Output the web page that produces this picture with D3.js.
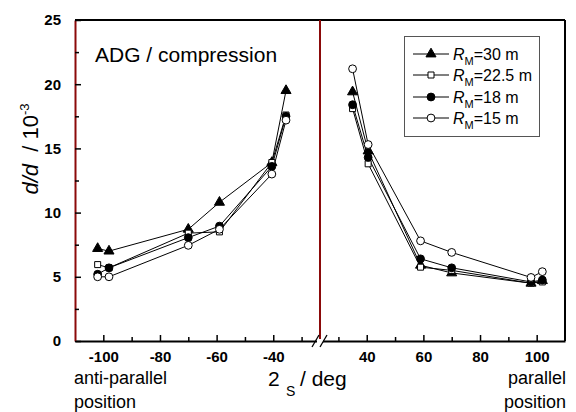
<!DOCTYPE html>
<html><head><meta charset="utf-8">
<script src="https://cdn.jsdelivr.net/npm/d3@7"></script>
<style>
body{margin:0;background:#fff;}
text{font-family:"Liberation Sans",Arial,sans-serif;}
</style></head>
<body><svg id="c" width="576" height="412"></svg>
<script>
// ---- data ----
const angles = [-102, -98, -70, -59, -40.5, -35.5, 35, 40.5, 59, 70, 98, 102];
const rm30   = [7.2, 7.0, 8.7, 10.8, 13.9, 19.5, 19.4, 14.8, 5.9, 5.3, 4.5, 4.7];
const rm225  = [5.95, 5.7, 8.4, 8.5, 13.9, 17.6, 18.1, 13.8, 5.75, 5.5, 4.5, 4.6];
const rm18   = [5.2, 5.7, 8.05, 8.95, 13.6, 17.5, 18.4, 14.3, 6.4, 5.7, 4.6, 4.75];
const rm15   = [5.0, 5.0, 7.45, 8.7, 13.0, 17.2, 21.2, 15.3, 7.8, 6.9, 4.95, 5.4];
const seriesNames = ["30 m", "22.5 m", "18 m", "15 m"];
const leftTicks = [-100, -80, -60, -40];
const rightTicks = [40, 60, 80, 100];
const leftMinor = [-90, -70, -50, -30];
const rightMinor = [30, 50, 70, 90];
const yTicks = [0, 5, 10, 15, 20, 25];

const series = [
  {name: seriesNames[0], vals: rm30, sym: d3.symbolTriangle, fill: "#000", size: 44},
  {name: seriesNames[1], vals: rm225, sym: d3.symbolSquare, fill: "#fff", size: 36},
  {name: seriesNames[2], vals: rm18, sym: d3.symbolCircle, fill: "#000", size: 48},
  {name: seriesNames[3], vals: rm15, sym: d3.symbolCircle, fill: "#fff", size: 48}
];

const svg = d3.select("#c");
const L = 75, R = 565, T = 20, B = 341, BRK = 320;
const RED = "#8b0a0a";
const xL = d3.scaleLinear().domain([-110, -23.5]).range([L, BRK]);
const xR = d3.scaleLinear().domain([23.5, 110]).range([BRK, R]);
const x = v => v < 0 ? xL(v) : xR(v);
const y = d3.scaleLinear().domain([0, 25]).range([B, T]);

// frame top & right
svg.append("line").attr("x1", L).attr("x2", R).attr("y1", T).attr("y2", T).attr("stroke", "#000").attr("stroke-width", 2);
svg.append("line").attr("x1", R).attr("x2", R).attr("y1", T).attr("y2", B).attr("stroke", "#000").attr("stroke-width", 2);

// bottom axes
function bottomAxis(scale, ticks, minor) {
  const g = svg.append("g").attr("transform", `translate(0,${B})`)
    .call(d3.axisBottom(scale).tickValues(ticks).tickSizeInner(-6).tickSizeOuter(0).tickPadding(10).tickFormat(d3.format("d")));
  g.select(".domain").attr("stroke-width", 2);
  g.selectAll(".tick line").attr("stroke-width", 1.5);
  g.selectAll("text").attr("font-size", 15).attr("font-weight", "bold").attr("fill", "#000").text(d => d < 0 ? "-" + Math.abs(d) : d);
  const gm = svg.append("g").attr("transform", `translate(0,${B})`)
    .call(d3.axisBottom(scale).tickValues(minor).tickSizeInner(-4).tickSizeOuter(0).tickFormat(""));
  gm.select(".domain").remove();
  gm.selectAll(".tick line").attr("stroke-width", 1.5);
}
bottomAxis(xL, leftTicks, leftMinor);
bottomAxis(xR, rightTicks, rightMinor);

// left axis (dark red line)
const gy = svg.append("g").attr("transform", `translate(${L},0)`)
  .call(d3.axisLeft(y).tickValues(yTicks).tickSizeInner(-6).tickSizeOuter(0).tickPadding(14));
gy.select(".domain").attr("stroke", RED).attr("stroke-width", 2);
gy.selectAll(".tick line").attr("stroke-width", 1.5);
gy.selectAll("text").attr("font-size", 15).attr("font-weight", "bold").attr("fill", "#000");
const gym = svg.append("g").attr("transform", `translate(${L},0)`)
  .call(d3.axisLeft(y).tickValues(d3.range(2.5, 25, 5)).tickSizeInner(-4).tickSizeOuter(0).tickFormat(""));
gym.select(".domain").remove();
gym.selectAll(".tick line").attr("stroke-width", 1.5);

// break line
svg.append("line").attr("x1", BRK).attr("x2", BRK).attr("y1", T).attr("y2", B).attr("stroke", RED).attr("stroke-width", 2);
svg.append("rect").attr("x", BRK - 3).attr("y", B - 2).attr("width", 6).attr("height", 4).attr("fill", "#fff");
[-4, 4].forEach(o => {
  svg.append("line").attr("x1", BRK + o - 4).attr("y1", B + 6).attr("x2", BRK + o + 3).attr("y2", B - 6)
    .attr("stroke", "#000").attr("stroke-width", 1.3);
});

// series
const line = d3.line().x(d => x(d[0])).y(d => y(d[1]));
series.forEach(s => {
  const pts = angles.map((a, i) => [a, s.vals[i]]);
  svg.append("path").attr("d", line(pts.filter(p => p[0] < 0))).attr("fill", "none").attr("stroke", "#000").attr("stroke-width", 1);
  svg.append("path").attr("d", line(pts.filter(p => p[0] > 0))).attr("fill", "none").attr("stroke", "#000").attr("stroke-width", 1);
});
series.forEach(s => {
  const pts = angles.map((a, i) => [a, s.vals[i]]);
  svg.selectAll(null).data(pts).enter().append("path")
    .attr("d", d3.symbol().type(s.sym).size(s.size))
    .attr("transform", d => `translate(${x(d[0])},${y(d[1])})`)
    .attr("fill", s.fill).attr("stroke", "#000").attr("stroke-width", 1);
});

// legend
svg.append("rect").attr("x", 404.5).attr("y", 36.5).attr("width", 135).attr("height", 100)
  .attr("fill", "#fff").attr("stroke", "#555").attr("stroke-width", 1);
const ly = [54, 75, 97, 118];
series.forEach((s, i) => {
  svg.append("line").attr("x1", 413).attr("x2", 449).attr("y1", ly[i]).attr("y2", ly[i]).attr("stroke", "#000").attr("stroke-width", 1);
  svg.append("path").attr("d", d3.symbol().type(s.sym).size(s.size)).attr("transform", `translate(431,${ly[i]})`)
    .attr("fill", s.fill).attr("stroke", "#000");
  const t = svg.append("text").attr("x", 453).attr("y", ly[i] + 6).attr("font-size", 16).attr("fill", "#000");
  t.append("tspan").attr("font-style", "italic").text("R");
  t.append("tspan").attr("font-size", 11).attr("dy", 5).text("M");
  t.append("tspan").attr("dy", -5).text("=" + s.name);
});

// annotations
svg.append("text").attr("x", 95).attr("y", 62).attr("font-size", 21).attr("fill", "#000").text("ADG / compression");

const yl = svg.append("text").attr("transform", "translate(38,149) rotate(-90)").attr("text-anchor", "middle").attr("font-size", 22).attr("fill", "#000");
yl.append("tspan").attr("font-style", "italic").text("d/d");
yl.append("tspan").text("\u00a0\u00a0/ 10");
yl.append("tspan").attr("font-size", 13).attr("dy", -9).text("-3");

const xl = svg.append("text").attr("y", 386).attr("font-size", 21).attr("fill", "#000");
xl.append("tspan").attr("x", 268).text("2");
xl.append("tspan").attr("x", 286).attr("y", 396).attr("font-size", 14).text("S");
xl.append("tspan").attr("x", 300).attr("y", 386).text("/ deg");

svg.append("text").attr("x", 74).attr("y", 384).attr("font-size", 18).attr("fill", "#000").text("anti-parallel");
svg.append("text").attr("x", 74).attr("y", 408).attr("font-size", 18).attr("fill", "#000").text("position");
svg.append("text").attr("x", 566).attr("y", 384).attr("text-anchor", "end").attr("font-size", 18).attr("fill", "#000").text("parallel");
svg.append("text").attr("x", 566).attr("y", 408).attr("text-anchor", "end").attr("font-size", 18).attr("fill", "#000").text("position");
</script></body></html>
